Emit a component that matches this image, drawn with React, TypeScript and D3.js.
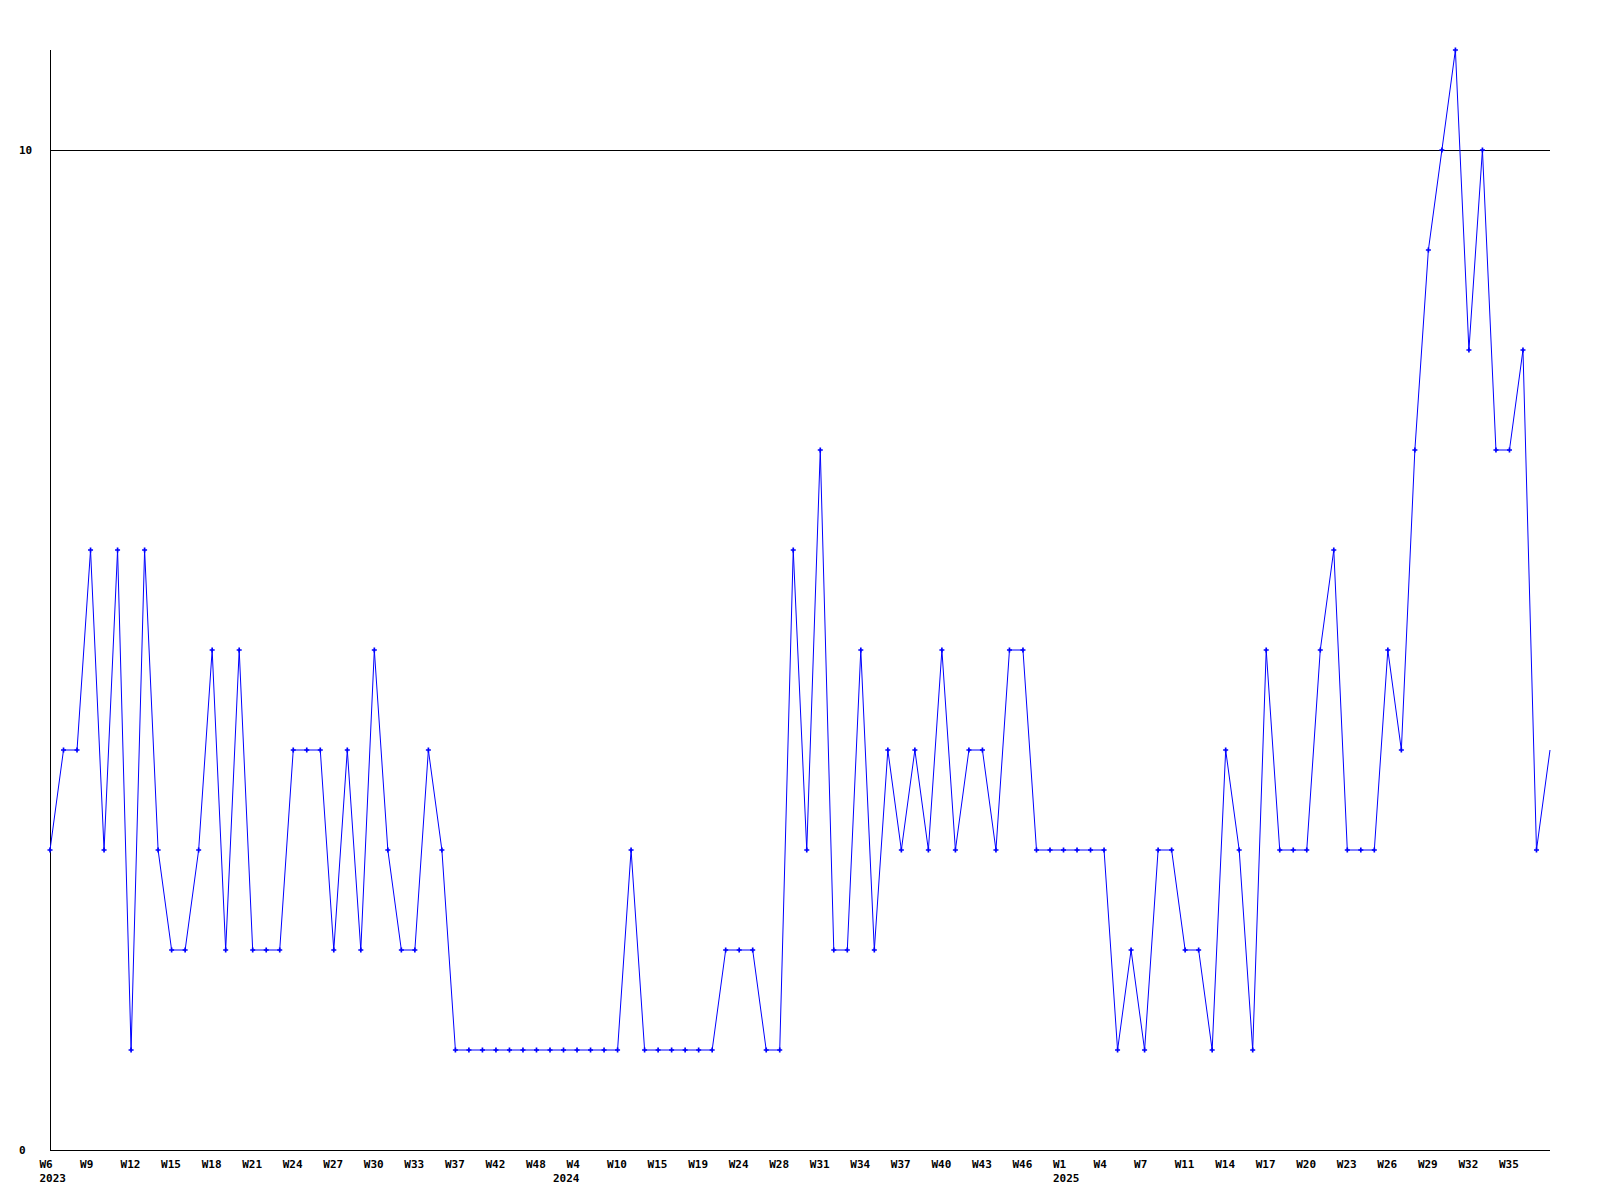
import React from "react";
import * as d3 from "d3";

// Weekly values (one point per reported week)
const values: number[] = [
  3, 4, 4, 6, 3, 6, 1, 6, 3, 2,
  2, 3, 5, 2, 5, 2, 2, 2, 4, 4,
  4, 2, 4, 2, 5, 3, 2, 2, 4, 3,
  1, 1, 1, 1, 1, 1, 1, 1, 1, 1,
  1, 1, 1, 3, 1, 1, 1, 1, 1, 1,
  2, 2, 2, 1, 1, 6, 3, 7, 2, 2,
  5, 2, 4, 3, 4, 3, 5, 3, 4, 4,
  3, 5, 5, 3, 3, 3, 3, 3, 3, 1,
  2, 1, 3, 3, 2, 2, 1, 4, 3, 1,
  5, 3, 3, 3, 5, 6, 3, 3, 3, 5,
  4, 7, 9, 10, 11, 8, 10, 7, 7, 8,
  3, 4,
];

// Week tick labels, one every third point
const weekLabels: string[] = [
  "W6", "W9", "W12", "W15", "W18", "W21", "W24", "W27", "W30", "W33",
  "W37", "W42", "W48", "W4", "W10", "W15", "W19", "W24", "W28", "W31",
  "W34", "W37", "W40", "W43", "W46", "W1", "W4", "W7", "W11", "W14",
  "W17", "W20", "W23", "W26", "W29", "W32", "W35",
];
const tickStep = 3;

// Year labels: placed at the first point of each year
const yearPointIndex: number[] = [0, 38, 75];
const yearLabels: string[] = ["2023", "2024", "2025"];

const yTicks: number[] = [0, 10];
const yMax = 11;

const W = 1600;
const H = 1200;
const left = 50;
const right = 1550;
const top = 50;
const bottom = 1150;

const FONT = "'DejaVu Sans Mono', 'Liberation Mono', monospace";

export default function App() {
  const x = d3.scaleLinear().domain([0, values.length - 1]).range([left, right]);
  const y = d3.scaleLinear().domain([0, yMax]).range([bottom, top]);

  const line = d3
    .line<number>()
    .x((_, i) => x(i))
    .y((d) => y(d));

  const marker = d3.symbol().type(d3.symbolCross).size(14)() as string;

  return (
    <svg
      width={W}
      height={H}
      style={{ position: "absolute", left: 0, top: 0, background: "#fff" }}
    >
      <rect x={0} y={0} width={W} height={H} fill="#fff" />
      {/* grid line(s) */}
      {yTicks
        .filter((t) => t !== 0)
        .map((t) => (
          <line
            key={"g" + t}
            x1={left}
            x2={right}
            y1={Math.round(y(t)) + 0.5}
            y2={Math.round(y(t)) + 0.5}
            stroke="#000"
            strokeWidth={1}
          />
        ))}
      {/* axes */}
      <line x1={left + 0.5} x2={left + 0.5} y1={top} y2={bottom + 0.5} stroke="#000" strokeWidth={1} />
      <line x1={left} x2={right} y1={bottom + 0.5} y2={bottom + 0.5} stroke="#000" strokeWidth={1} />
      {/* y labels */}
      {yTicks.map((t) => (
        <text
          key={"yl" + t}
          x={19}
          y={y(t) + 4}
          fontFamily={FONT}
          fontWeight="bold"
          fontSize={11}
          fill="#000"
        >
          {t}
        </text>
      ))}
      {/* x labels */}
      {weekLabels.map((lab, k) => (
        <text
          key={"xl" + k}
          x={x(k * tickStep) - 10.5}
          y={1167.5}
          fontFamily={FONT}
          fontWeight="bold"
          fontSize={11}
          fill="#000"
        >
          {lab}
        </text>
      ))}
      {yearLabels.map((yr, k) => (
        <text
          key={"yr" + k}
          x={x(yearPointIndex[k]) - 10.5}
          y={1182}
          fontFamily={FONT}
          fontWeight="bold"
          fontSize={11}
          fill="#000"
        >
          {yr}
        </text>
      ))}
      {/* series */}
      <path d={line(values) as string} fill="none" stroke="#0000ff" strokeWidth={1} />
      {values.slice(0, values.length - 1).map((v, i) => (
        <path
          key={"m" + i}
          d={marker}
          transform={`translate(${x(i)},${y(v)})`}
          fill="#0000ff"
        />
      ))}
    </svg>
  );
}
